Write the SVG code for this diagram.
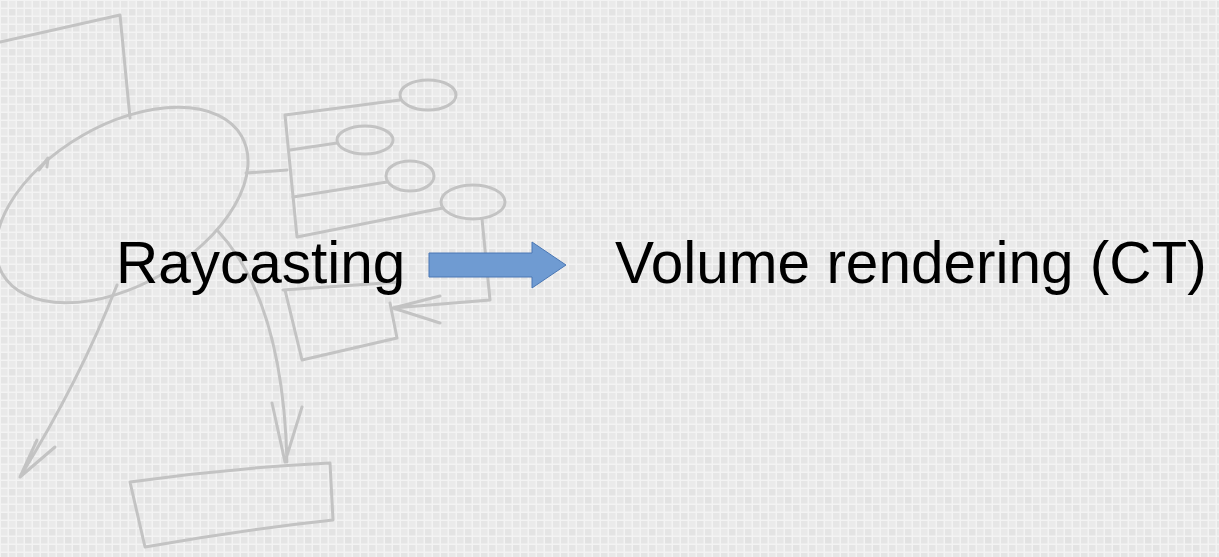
<svg xmlns="http://www.w3.org/2000/svg" width="1219" height="557" viewBox="0 0 1219 557">
<style>
.sk{fill:none;stroke:#c3c3c3;stroke-width:3;stroke-linecap:round;stroke-linejoin:round}
.lbl{font-family:"Liberation Sans",Arial,sans-serif;font-size:58.5px;fill:#000}
</style>
<defs>
<pattern id="grid" width="40" height="40" patternUnits="userSpaceOnUse">
<rect width="40" height="40" fill="#f3f3f3"/>
<rect x="1" y="1" width="6.5" height="6.5" fill="#e6e6e6"/>
<rect x="9" y="1" width="6.5" height="6.5" fill="#eaeaea"/>
<rect x="17" y="1" width="6.5" height="6.5" fill="#e4e4e4"/>
<rect x="25" y="1" width="6.5" height="6.5" fill="#e9e9e9"/>
<rect x="33" y="1" width="6.5" height="6.5" fill="#e6e6e6"/>
<rect x="1" y="9" width="6.5" height="6.5" fill="#e9e9e9"/>
<rect x="9" y="9" width="6.5" height="6.5" fill="#e3e3e3"/>
<rect x="17" y="9" width="6.5" height="6.5" fill="#e8e8e8"/>
<rect x="25" y="9" width="6.5" height="6.5" fill="#e5e5e5"/>
<rect x="33" y="9" width="6.5" height="6.5" fill="#ebebeb"/>
<rect x="1" y="17" width="6.5" height="6.5" fill="#e5e5e5"/>
<rect x="9" y="17" width="6.5" height="6.5" fill="#e9e9e9"/>
<rect x="17" y="17" width="6.5" height="6.5" fill="#e6e6e6"/>
<rect x="25" y="17" width="6.5" height="6.5" fill="#e2e2e2"/>
<rect x="33" y="17" width="6.5" height="6.5" fill="#e7e7e7"/>
<rect x="1" y="25" width="6.5" height="6.5" fill="#eaeaea"/>
<rect x="9" y="25" width="6.5" height="6.5" fill="#e5e5e5"/>
<rect x="17" y="25" width="6.5" height="6.5" fill="#e9e9e9"/>
<rect x="25" y="25" width="6.5" height="6.5" fill="#e6e6e6"/>
<rect x="33" y="25" width="6.5" height="6.5" fill="#e3e3e3"/>
<rect x="1" y="33" width="6.5" height="6.5" fill="#e4e4e4"/>
<rect x="9" y="33" width="6.5" height="6.5" fill="#e8e8e8"/>
<rect x="17" y="33" width="6.5" height="6.5" fill="#e5e5e5"/>
<rect x="25" y="33" width="6.5" height="6.5" fill="#eaeaea"/>
<rect x="33" y="33" width="6.5" height="6.5" fill="#e6e6e6"/>
</pattern>
</defs>
<rect width="1219" height="557" fill="url(#grid)"/>

<g id="sketch">
<path class="sk" d="M0 42 L120 15 L130 118"/>
<ellipse class="sk" cx="122" cy="205" rx="138" ry="80" transform="rotate(-30 122 205)"/>
<path class="sk" d="M39 170 L48 158 L47 167"/>
<path class="sk" d="M246 173 L287 170"/>
<path class="sk" d="M285 115 L400 100 M285 115 L297 237 L443 208"/>
<path class="sk" d="M290 150 L337 143 M293 197 L387 182"/>
<ellipse class="sk" cx="428" cy="95" rx="28" ry="15"/>
<ellipse class="sk" cx="365" cy="140" rx="28" ry="14"/>
<ellipse class="sk" cx="410" cy="176" rx="24" ry="15"/>
<ellipse class="sk" cx="473" cy="202" rx="32" ry="17"/>
<path class="sk" d="M482 219 L490 300 L393 308 M393 308 L440 296 M393 308 L440 323"/>
<path class="sk" d="M283 290 L400 282 M390 303 L397 338 L302 360 L285 290"/>
<path class="sk" d="M217 230 Q283 300 287 462 M272 403 L285 462 L302 407"/>
<path class="sk" d="M117 285 Q80 380 20 477 M37 440 L20 477 L55 447"/>
<path class="sk" d="M130 482 Q230 468 330 463 L333 520 Q240 530 145 547 Z"/>
</g>

<g id="node-raycasting">
<text class="lbl" x="116" y="283">Raycasting</text>
</g>
<g id="node-volume">
<text class="lbl" x="615" y="283">Volume rendering (CT)</text>
</g>
<g id="connectors">
<polygon points="429,253 532,253 532,242 566,265 532,288 532,277 429,277" fill="#6f9bd2" stroke="#4a77b4" stroke-width="1"/>
</g>
</svg>
